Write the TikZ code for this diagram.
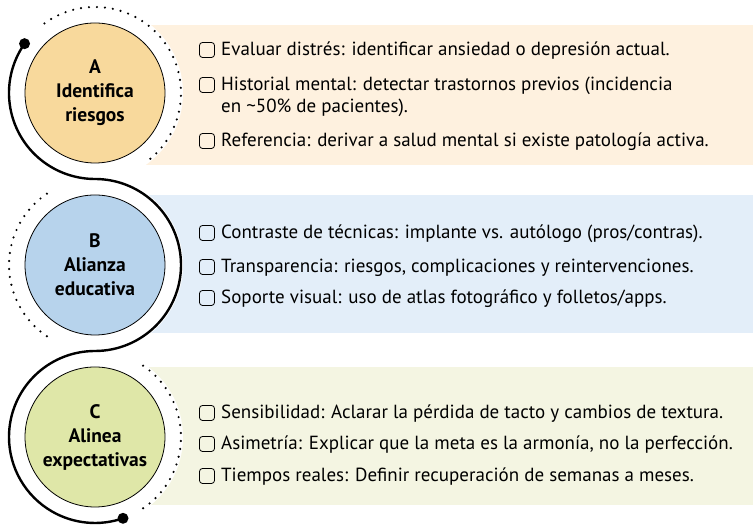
\documentclass[tikz,border=0pt]{standalone}
\usepackage{fontspec}
\setmainfont{PT Sans}
\usetikzlibrary{positioning}

\definecolor{panelA}{HTML}{FEF1DF}
\definecolor{panelB}{HTML}{E3EEF9}
\definecolor{panelC}{HTML}{F4F5E2}
\definecolor{circA}{HTML}{F8D99C}
\definecolor{circB}{HTML}{B7D3EC}
\definecolor{circC}{HTML}{DFE7A8}

\begin{document}
\begin{tikzpicture}[
    x=1pt, y=1pt,
    stage/.style={circle, draw, line width=0.8pt, minimum size=140pt, inner sep=0pt, align=center,
        font=\fontsize{19.5}{24}\selectfont\bfseries},
    item/.style={anchor=base west, inner sep=0pt, align=left,
        font=\fontsize{19}{22}\selectfont},
    chk/.style={draw, rounded corners=3pt, minimum size=15pt, inner sep=0pt, line width=0.8pt},
    track/.style={line width=2.4pt},
    dots/.style={line width=2.4pt, dash pattern=on 0pt off 8pt, line cap=round}
]
    \useasboundingbox (0,0) rectangle (753,526);

    % panels
    \fill[panelA] (140,361) rectangle (753,501);
    \fill[panelB] (140,193) rectangle (753,331);
    \fill[panelC] (140,21) rectangle (753,159);

    % stages
    \coordinate (oA) at (95,433);
    \coordinate (oB) at (95,261);
    \coordinate (oC) at (95,89);
    \fill[white] (oA) circle[radius=88];
    \fill[white] (oB) circle[radius=88];
    \fill[white] (oC) circle[radius=88];
    \node[stage, fill=circA] (cA) at (oA) {A\\Identifica\\riesgos};
    \node[stage, fill=circB] (cB) at (oB) {B\\Alianza\\educativa};
    \node[stage, fill=circC] (cC) at (oC) {C\\Alinea\\expectativas};

    % dotted halves
    \draw[dots] ([shift={(126:86)}]oA) arc[start angle=126, end angle=-53, radius=86];
    \draw[dots] ([shift={(124:86)}]oB) arc[start angle=124, end angle=236, radius=86];
    \draw[dots] ([shift={(56:86)}]oC) arc[start angle=56, end angle=-58, radius=86];

    % solid track
    \coordinate (tStart) at ([shift={(145:86)}]oA);
    \draw[track] (tStart) arc[start angle=145, end angle=270, radius=86]
        arc[start angle=90, end angle=-90, radius=86]
        arc[start angle=90, end angle=289, radius=86] coordinate (tEnd);
    \fill (tStart) circle[radius=5.5];
    \fill (tEnd) circle[radius=5.5];

    % A items
    \node[item] (a1) at (221,470) {Evaluar distrés: identificar ansiedad o depresión actual.};
    \node[item] (a2) at (221,413) {Historial mental: detectar trastornos previos (incidencia\\en \textasciitilde 50\% de pacientes).};
    \node[item] (a3) at (221,379) {Referencia: derivar a salud mental si existe patología activa.};
    \node[chk] (a1c) at ([shift={(-14pt,6pt)}]a1.base west) {};
    \node[chk] (a2c) at ([shift={(-14pt,28pt)}]a2.base west) {};
    \node[chk] (a3c) at ([shift={(-14pt,6pt)}]a3.base west) {};

    % B items
    \node[item] (b1) at (221,287) {Contraste de técnicas: implante vs. autólogo (pros/contras).};
    \node[item] (b2) at (221,253) {Transparencia: riesgos, complicaciones y reintervenciones.};
    \node[item] (b3) at (221,222) {Soporte visual: uso de atlas fotográfico y folletos/apps.};
    \node[chk] (b1c) at ([shift={(-14pt,6pt)}]b1.base west) {};
    \node[chk] (b2c) at ([shift={(-14pt,6pt)}]b2.base west) {};
    \node[chk] (b3c) at ([shift={(-14pt,6pt)}]b3.base west) {};

    % C items
    \node[item] (c1) at (221,107) {Sensibilidad: Aclarar la pérdida de tacto y cambios de textura.};
    \node[item] (c2) at (221,76) {Asimetría: Explicar que la meta es la armonía, no la perfección.};
    \node[item] (c3) at (221,44) {Tiempos reales: Definir recuperación de semanas a meses.};
    \node[chk] (c1c) at ([shift={(-14pt,6pt)}]c1.base west) {};
    \node[chk] (c2c) at ([shift={(-14pt,6pt)}]c2.base west) {};
    \node[chk] (c3c) at ([shift={(-14pt,6pt)}]c3.base west) {};
\end{tikzpicture}
\end{document}
